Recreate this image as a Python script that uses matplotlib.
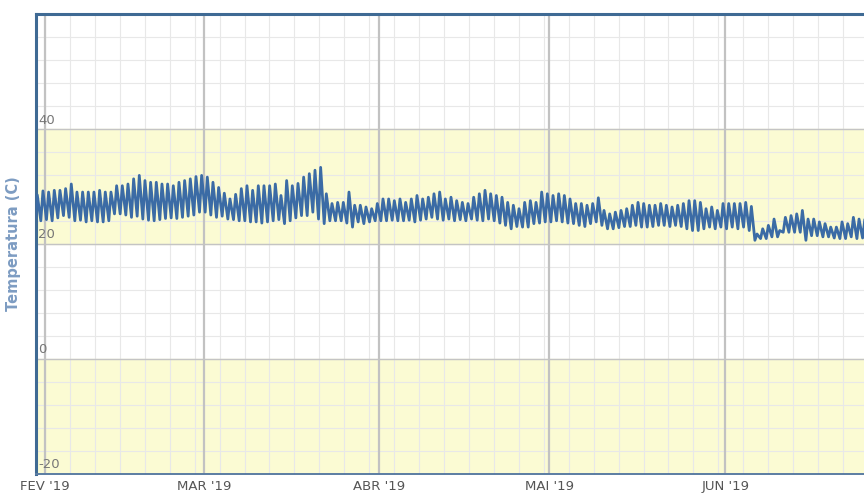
import numpy as np
import pandas as pd
import matplotlib
matplotlib.use('Agg')
import matplotlib.pyplot as plt
import matplotlib.dates as mdates

# daily max / min temperature (C)
hi_jan = [28.5, 29.2]
lo_jan = [24.5, 24.0]
hi_feb = [29.0, 29.3, 29.3, 29.6, 30.4, 29.0, 29.0, 29.0, 29.0, 29.3,
          29.0, 29.0, 30.1, 30.1, 30.4, 31.3, 31.9, 31.0, 30.7, 30.7,
          30.4, 30.4, 30.1, 30.7, 31.0, 31.3, 31.7, 31.9]
lo_feb = [24.2, 24.0, 24.5, 24.9, 24.6, 24.0, 24.1, 23.8, 24.0, 23.8,
          23.8, 24.0, 25.2, 25.2, 25.0, 24.6, 24.8, 24.3, 24.1, 24.0,
          24.2, 24.4, 24.5, 24.4, 24.6, 24.8, 25.0, 25.5]
hi_mar = [31.6, 30.7, 29.8, 28.8, 27.8, 28.6, 29.6, 30.1, 29.3, 30.1,
          30.1, 30.1, 30.4, 28.4, 31.0, 30.1, 30.5, 31.6, 32.2, 32.8,
          33.3, 28.7, 27.0, 27.2, 27.2, 29.0, 26.7, 26.7, 26.4, 26.1,
          27.0]
lo_mar = [25.5, 25.0, 24.6, 24.8, 24.3, 24.2, 24.0, 24.0, 23.8, 23.8,
          23.6, 23.8, 24.0, 24.2, 23.5, 24.0, 24.5, 24.9, 24.9, 25.5,
          24.3, 23.5, 24.0, 24.0, 24.0, 23.6, 22.9, 23.8, 23.5, 23.8,
          24.0]
hi_apr = [27.8, 27.8, 27.5, 27.8, 27.2, 27.8, 28.4, 27.8, 28.1, 28.7,
          29.0, 27.8, 28.1, 27.5, 27.2, 27.0, 28.1, 28.7, 29.3, 28.7,
          28.4, 28.1, 27.2, 26.7, 26.1, 27.2, 27.5, 27.2, 29.0, 28.7]
lo_apr = [24.0, 24.0, 24.1, 24.0, 24.0, 24.1, 23.8, 24.1, 24.3, 24.6,
          24.3, 24.1, 24.3, 24.0, 24.2, 24.0, 24.3, 24.1, 24.0, 24.3,
          24.0, 23.6, 23.2, 22.6, 23.0, 22.9, 22.9, 23.5, 23.6, 23.8]
hi_may = [28.4, 28.7, 28.4, 27.8, 27.0, 27.0, 26.7, 27.0, 28.0, 25.8,
          25.2, 25.5, 25.8, 26.1, 26.7, 27.2, 27.0, 26.7, 26.7, 27.0,
          26.7, 26.4, 26.7, 27.0, 27.5, 27.5, 27.2, 26.1, 26.4, 25.8,
          27.0]
lo_may = [23.8, 24.0, 23.8, 23.6, 23.5, 23.2, 23.0, 23.5, 23.8, 23.2,
          22.6, 22.6, 22.8, 23.0, 23.0, 23.2, 22.9, 22.9, 23.0, 23.2,
          23.2, 23.0, 23.2, 23.0, 22.6, 22.3, 22.3, 22.6, 22.9, 22.6,
          22.9]
hi_jun = [27.0, 27.0, 27.0, 27.2, 26.5, 21.7, 22.6, 23.2, 24.3, 22.3,
          24.6, 24.9, 25.2, 25.8, 24.3, 24.3, 23.8, 23.5, 22.9, 22.9,
          23.8, 23.5, 24.6, 24.3, 24.1]
lo_jun = [22.6, 22.9, 22.6, 22.9, 22.3, 20.6, 20.9, 20.9, 21.2, 21.2,
          22.0, 22.0, 22.0, 22.0, 20.6, 21.4, 21.4, 21.2, 21.2, 21.0,
          20.9, 20.9, 21.2, 20.9, 21.0]

month_ticks = ['2019-02-01', '2019-03-01', '2019-04-01', '2019-05-01', '2019-06-01']
month_labels = ["FEV '19", "MAR '19", "ABR '19", "MAI '19", "JUN '19"]

highs = hi_jan + hi_feb + hi_mar + hi_apr + hi_may + hi_jun
lows = lo_jan + lo_feb + lo_mar + lo_apr + lo_may + lo_jun

days = pd.date_range('2019-01-30', periods=len(highs), freq='D')
times = []
temps = []
for d, lo, hi in zip(days, lows, highs):
    times.append(d + pd.Timedelta(hours=6))
    temps.append(lo)
    times.append(d + pd.Timedelta(hours=15))
    temps.append(hi)

fig = plt.figure(figsize=(8.64, 4.95), dpi=100)
ax = fig.add_axes([36 / 864, 1 - 473.5 / 495, 1 - 36 / 864, (473.5 - 14) / 495])

feb1 = mdates.date2num(pd.Timestamp('2019-02-01'))
ax.set_xlim(feb1 - 1.6, feb1 + 144.5)
ax.set_ylim(-20, 60)

# yellow bands
ax.axhspan(20, 40, color='#fbfbd3', zorder=0)
ax.axhspan(-20, 0, color='#fbfbd3', zorder=0)

# minor grid
for xv in np.arange(feb1 - 4.4, feb1 + 150, 4.4):
    ax.axvline(xv, color='#e8e8e8', lw=0.8, zorder=1)
for yv in range(-16, 60, 4):
    ax.axhline(yv, color='#e8e8e8', lw=0.8, zorder=1)
for yv in [0, 20, 40]:
    ax.axhline(yv, color='#c4c4c4', lw=1.0, zorder=1)
for m in month_ticks:
    ax.axvline(mdates.date2num(pd.Timestamp(m)), color='#c2c2c2', lw=1.6, zorder=1)

ax.plot(times, temps, color='#3b6ba5', lw=2.0, zorder=3)

ax.set_xticks([mdates.date2num(pd.Timestamp(m)) for m in month_ticks])
ax.set_xticklabels(month_labels)
ax.tick_params(axis='x', length=0, pad=5, labelsize=9.5, labelcolor='#555555')
ax.set_yticks([])
for yv in [-20, 0, 20, 40]:
    ax.text(0.003, yv + 0.4, str(yv), transform=ax.get_yaxis_transform(),
            ha='left', va='bottom', fontsize=9.5, color='#777777', zorder=4)

ax.set_ylabel('Temperatura (C)', color='#7d9cc2', fontsize=10.5,
              fontweight='bold', labelpad=11)

for side in ['left', 'top']:
    ax.spines[side].set_color('#3f6a94')
    ax.spines[side].set_linewidth(2.2)
ax.spines['bottom'].set_color('#5b7da2')
ax.spines['bottom'].set_linewidth(1.4)
ax.spines['right'].set_visible(False)

fig.savefig('out.png', dpi=100)
